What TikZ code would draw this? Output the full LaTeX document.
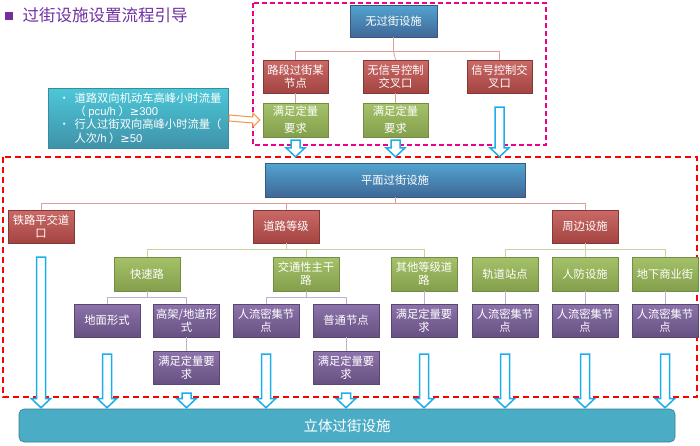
\documentclass[tikz,border=0pt]{standalone}
\usepackage{fontspec}
\setmainfont{Noto Sans CJK SC}
\newfontfamily\latinsans{Liberation Sans}
\newfontfamily\symfont{DejaVu Sans}
\usetikzlibrary{calc}
\definecolor{oblue}{HTML}{4F81BD}
\definecolor{ored}{HTML}{C0504D}
\definecolor{ogreen}{HTML}{9BBB59}
\definecolor{opurple}{HTML}{8064A2}
\definecolor{oaqua}{HTML}{4BACC6}
\definecolor{oorange}{HTML}{F79646}
\definecolor{arrowblue}{HTML}{1CAEEA}
\definecolor{titlepurple}{HTML}{7030A0}
\tikzset{
  cell/.style={minimum width=66, minimum height=34, inner sep=1, align=center, text=white,
    font=\fontsize{11.3}{13}\selectfont},
  bluebox/.style={cell, top color=oblue!80!cyan!90!white, bottom color=oblue!80!black, draw=oblue!70!black, line width=.4},
  redbox/.style={cell, top color=ored!85!white, bottom color=ored!85!black, draw=ored!70!black, line width=.4},
  greenbox/.style={cell, top color=ogreen!90!white, bottom color=ogreen!85!black, draw=ogreen!75!black, line width=.4},
  purplebox/.style={cell, minimum height=33, top color=opurple!90!white, bottom color=opurple!80!black, draw=opurple!70!black, line width=.4},
  rline/.style={draw=ored!55!white, line width=.8},
  gline/.style={draw=ogreen!60!white, line width=.8},
  pline/.style={draw=opurple!50!white, line width=.8},
  hollow/.style={draw=arrowblue, fill=white, line width=1.5, line join=miter},
}
% hollow arrow: source node, target node, gap below source, gap above target
\newcommand{\hollowdown}[4]{%
  \path (#1.south) ++(0,#3) coordinate (s) (s |- #2.north) ++(0,-#4) coordinate (e);
  \draw[hollow] ($(s)+(-4.5,0)$) -- ($(s)+(4.5,0)$) -- ($(e)+(4.5,-9)$) -- ($(e)+(9.5,-9)$)
    -- (e) -- ($(e)+(-9.5,-9)$) -- ($(e)+(-4.5,-9)$) -- cycle;}
\begin{document}
\begin{tikzpicture}[x=1pt,y=-1pt]
\useasboundingbox[fill=white] (0,0) rectangle (700,445);
% title
\node[fill=titlepurple, minimum size=8, inner sep=0] (sq) at (9,16) {};
\node[anchor=west, text=titlepurple, font=\fontsize{16.5}{18}\selectfont] (title) at (19,15) {过街设施设置流程引导};
% frames
\draw[magenta, dash pattern=on 5 off 3, line width=1.3] (253,3) rectangle (546,145);
\draw[red, dash pattern=on 6 off 4, line width=1.8] (3,157) rectangle (697,397);
% no crossing facility
\node[bluebox, minimum width=87, minimum height=32] (none) at (393.5,21) {无过街设施};
\node[redbox, minimum width=65, minimum height=33] (seg) at (295.5,76.5) {路段过街某\\节点};
\node[redbox, minimum width=65, minimum height=33] (unsig) at (395.5,76.5) {无信号控制\\交叉口};
\node[redbox, minimum width=65, minimum height=33] (sig) at (499.5,76.5) {信号控制交\\叉口};
\node[greenbox, minimum width=65, font=\fontsize{11.3}{17}\selectfont] (segok) at (295.5,120) {满足定量\\要求};
\node[greenbox, minimum width=65, font=\fontsize{11.3}{17}\selectfont] (unsigok) at (395.5,120) {满足定量\\要求};
\draw[rline] (none.south) -- ++(0,14) coordinate (k1);
\draw[rline] (seg.north) |- (k1) -| (sig.north);
\draw[rline] (k1) -- (unsig.north);
\draw[rline] (seg.south) -- (segok.north);
\draw[rline] (unsig.south) -- (unsigok.north);
% condition
\node[minimum width=180, minimum height=60, inner sep=0, top color=oaqua!75!cyan!90!white, bottom color=oaqua!85!black,
  draw=oaqua!80!black, line width=.4, text=white, align=left, font=\fontsize{11.3}{13.4}\selectfont] (cond) at (138,118)
  {\hspace*{4pt}\makebox[16pt][l]{\textcolor{white!85!oaqua}{•}}道路双向机动车高峰小时流量\\
   \hspace*{20pt}（ {\latinsans pcu/h} ）{\symfont ≥}{\latinsans 300}\\
   \hspace*{4pt}\makebox[16pt][l]{\textcolor{white!85!oaqua}{•}}行人过街双向高峰小时流量（\\
   \hspace*{20pt}人次{\latinsans /h} ）{\symfont ≥}{\latinsans 50}};
\path (cond.east) ++(1,0) coordinate (o1) (segok.west) ++(-3,0) coordinate (o2);
\draw[draw=oorange, fill=white, line width=1] ($(o1)+(0,-3)$) -- ($(o2)+(-7,-3)$) -- ($(o2)+(-7,-7)$) -- (o2)
  -- ($(o2)+(-7,7)$) -- ($(o2)+(-7,3)$) -- ($(o1)+(0,3)$) -- cycle;
% at-grade crossing
\node[bluebox, minimum width=260, minimum height=34] (plane) at (395,180) {平面过街设施};
\node[redbox, minimum height=33] (rail) at (41,226.5) {铁路平交道\\口};
\node[redbox, minimum height=33] (grade) at (286,226.5) {道路等级};
\node[redbox, minimum height=33] (around) at (585,226.5) {周边设施};
\draw[rline] (plane.south) -- ++(0,6) coordinate (k2);
\draw[rline] (rail.north) |- (k2) -| (around.north);
\draw[rline] (k2) -| (grade.north);
\node[greenbox] (fast) at (147,274) {快速路};
\node[greenbox] (trunk) at (306,274) {交通性主干\\路};
\node[greenbox] (other) at (424,274) {其他等级道\\路};
\node[greenbox] (metro) at (505,274) {轨道站点};
\node[greenbox] (civil) at (585,274) {人防设施};
\node[greenbox] (mall) at (665,274) {地下商业街};
\draw[gline] (grade.south) -- ++(0,6.5) coordinate (k3);
\draw[gline] (fast.north) |- (k3) -| (other.north);
\draw[gline] (k3) -| (trunk.north);
\draw[gline] (around.south) -- ++(0,6.5) coordinate (k4);
\draw[gline] (metro.north) |- (k4) -| (mall.north);
\draw[gline] (k4) -- (civil.north);
\node[purplebox] (ground) at (107,320.5) {地面形式};
\node[purplebox] (elev) at (186.5,320.5) {高架/地道形\\式};
\node[purplebox] (dense1) at (266,320.5) {人流密集节\\点};
\node[purplebox] (normal) at (346,320.5) {普通节点};
\node[purplebox] (otherok) at (424,320.5) {满足定量要\\求};
\node[purplebox] (dense2) at (505,320.5) {人流密集节\\点};
\node[purplebox] (dense3) at (585,320.5) {人流密集节\\点};
\node[purplebox] (dense4) at (665,320.5) {人流密集节\\点};
\node[purplebox] (elevok) at (186.5,367.5) {满足定量要\\求};
\node[purplebox] (normalok) at (346,367.5) {满足定量要\\求};
\draw[pline] (fast.south) -- ++(0,6) coordinate (k5);
\draw[pline] (ground.north) |- (k5) -| (elev.north);
\draw[pline] (trunk.south) -- ++(0,6) coordinate (k6);
\draw[pline] (dense1.north) |- (k6) -| (normal.north);
\draw[pline] (other.south) -- (otherok.north);
\draw[pline] (metro.south) -- (dense2.north);
\draw[pline] (civil.south) -- (dense3.north);
\draw[pline] (mall.south) -- (dense4.north);
\draw[pline] (elev.south) -- (elevok.north);
\draw[pline] (normal.south) -- (normalok.north);
% grade-separated crossing
\node[minimum width=656, minimum height=33, rounded corners=5, fill=oaqua, draw=oaqua!75!black, line width=.6,
  text=white, font=\fontsize{14.5}{16}\selectfont] (bar) at (347,425.5) {立体过街设施};
\hollowdown{segok}{plane}{3}{6}
\hollowdown{unsigok}{plane}{3}{6}
\hollowdown{sig}{plane}{14}{6}
\hollowdown{rail}{bar}{14}{1}
\hollowdown{ground}{bar}{17}{1}
\hollowdown{elevok}{bar}{9}{1}
\hollowdown{dense1}{bar}{17}{1}
\hollowdown{normalok}{bar}{9}{1}
\hollowdown{otherok}{bar}{17}{1}
\hollowdown{dense2}{bar}{17}{1}
\hollowdown{dense3}{bar}{17}{1}
\hollowdown{dense4}{bar}{17}{1}
\end{tikzpicture}
\end{document}
